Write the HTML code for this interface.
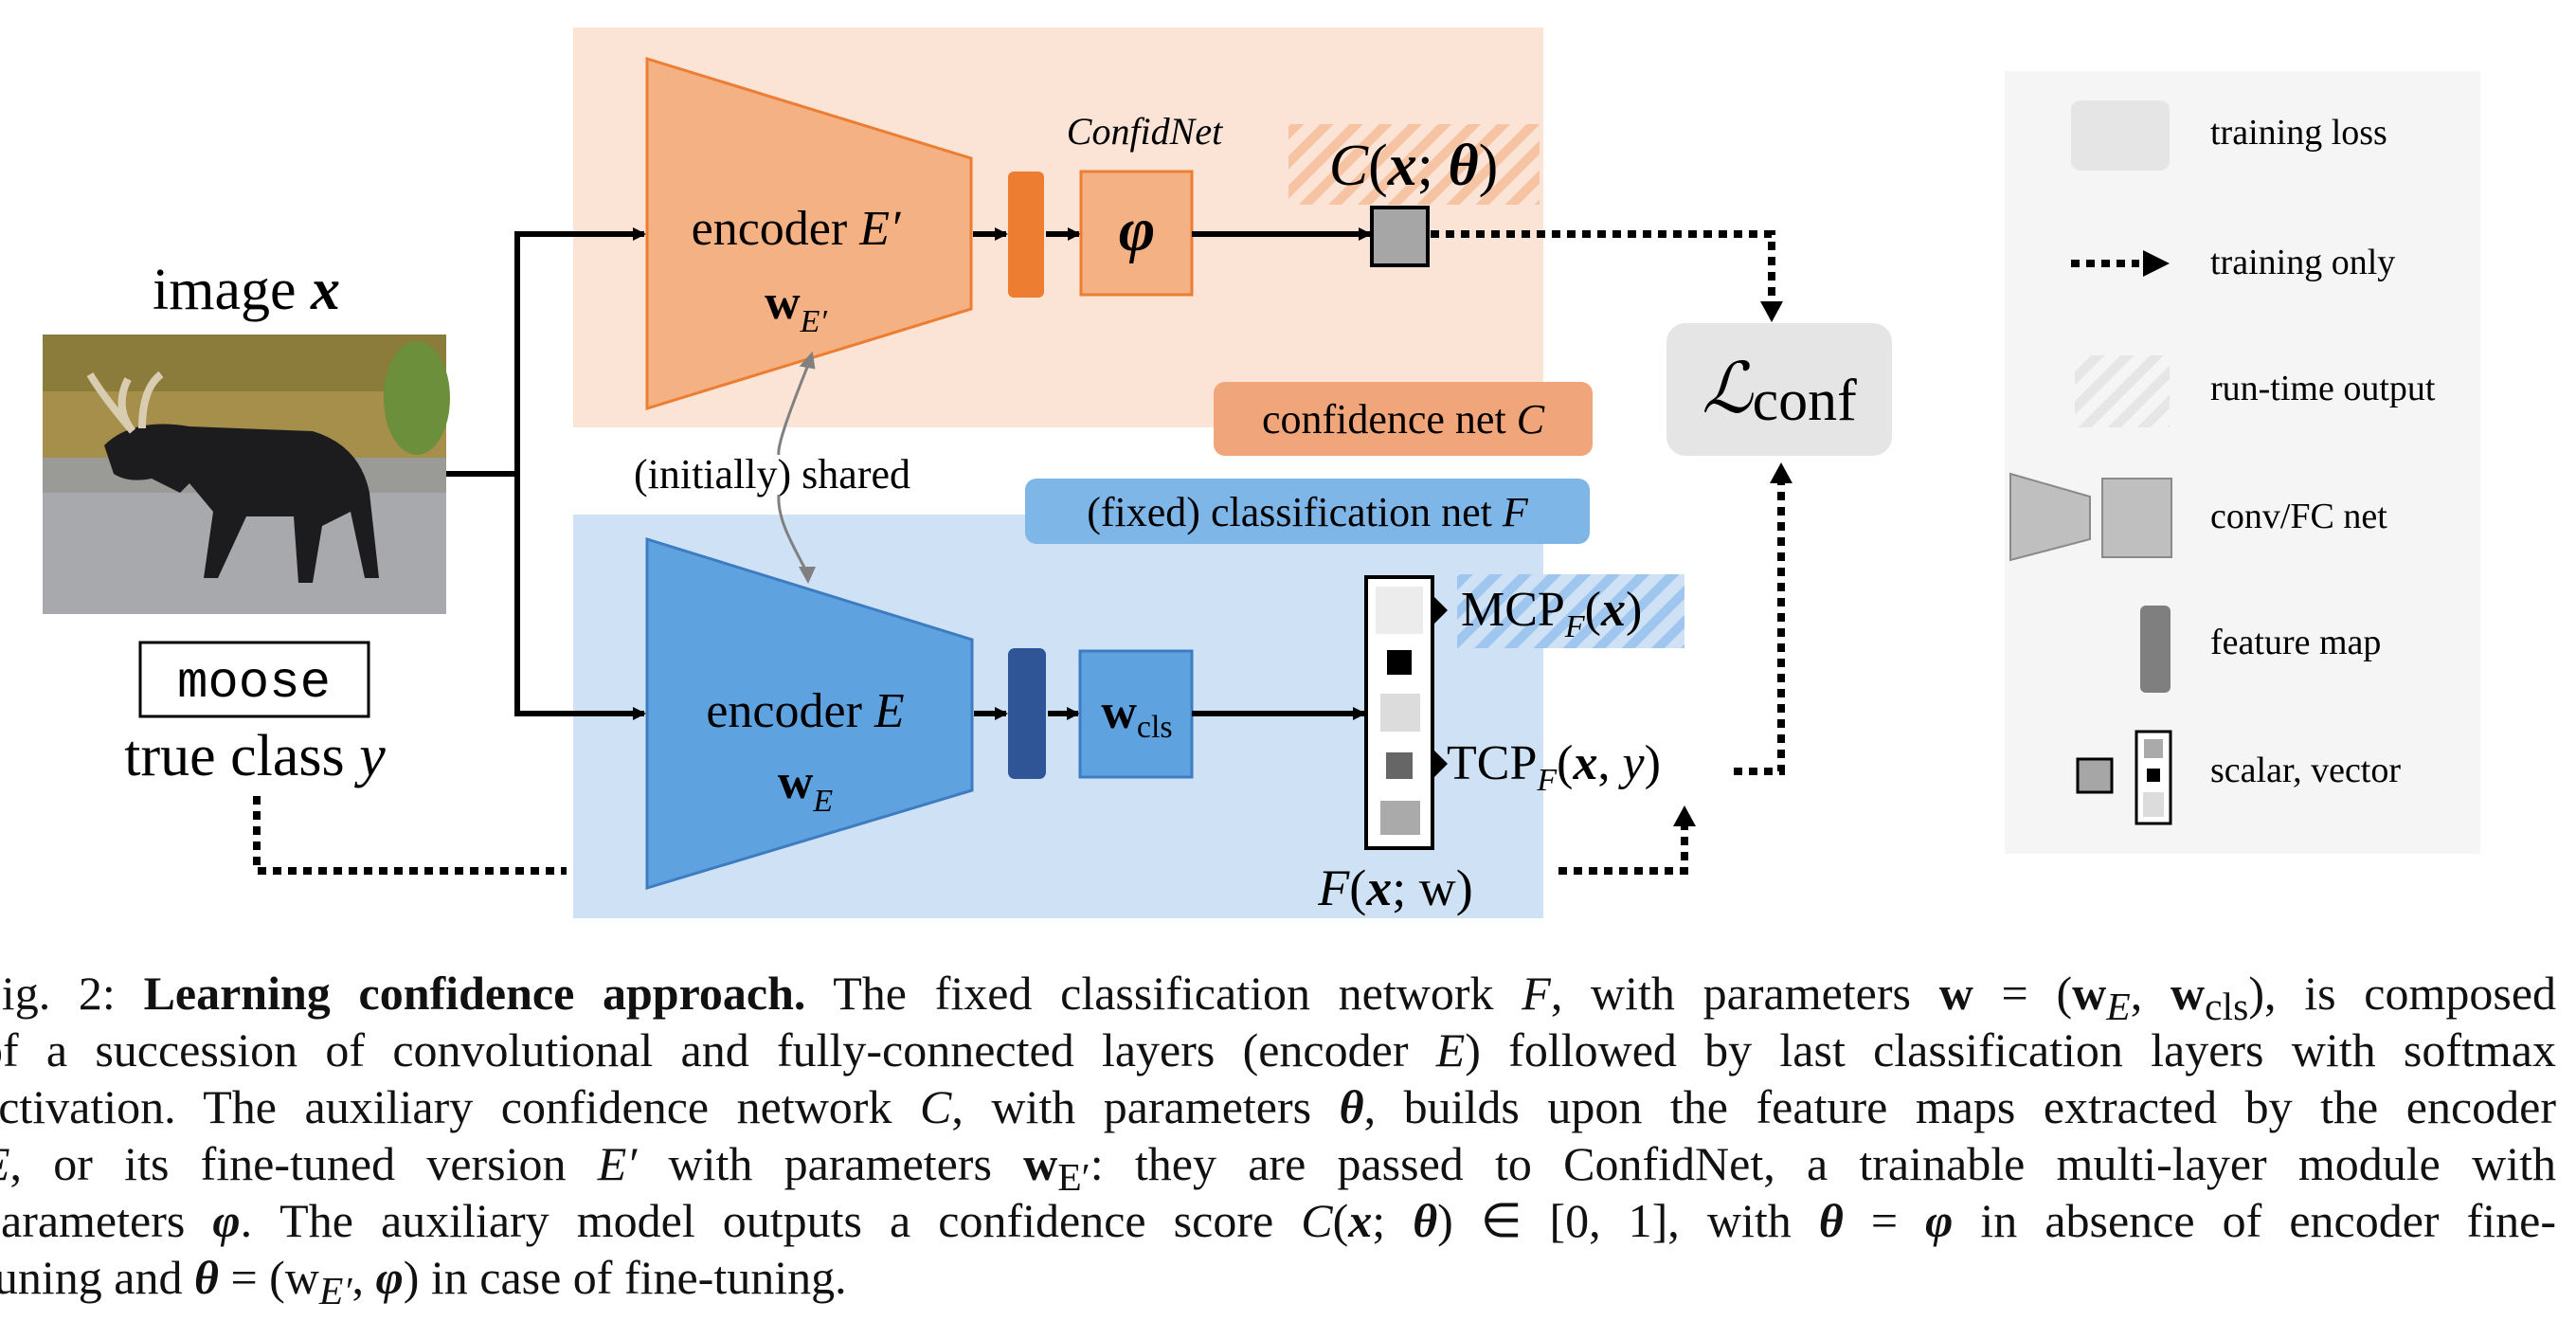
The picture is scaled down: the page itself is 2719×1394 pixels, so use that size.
<!DOCTYPE html>
<html><head><meta charset="utf-8">
<style>
html,body{margin:0;padding:0;background:#fff;}
#wrap{position:relative;width:2719px;height:1394px;overflow:hidden;background:#fff;}
svg{position:absolute;left:0;top:0;}
.cap{position:absolute;font-family:"Liberation Serif",serif;font-size:50px;line-height:60px;white-space:nowrap;text-align:justify;text-align-last:justify;color:#111;}
.cap i{font-style:italic}
</style></head><body><div id="wrap">
<svg width="2719" height="1000" viewBox="0 0 2719 1000" font-family="Liberation Serif, serif">
<defs>
<pattern id="ho" width="22" height="22" patternUnits="userSpaceOnUse" patternTransform="rotate(45)"><rect width="22" height="22" fill="#fbe3d6"/><rect width="10" height="22" fill="#f6c3a3"/></pattern>
<pattern id="hb" width="22" height="22" patternUnits="userSpaceOnUse" patternTransform="rotate(45)"><rect width="22" height="22" fill="#cfe2f5"/><rect width="10" height="22" fill="#9fc6ee"/></pattern>
<pattern id="hg" width="22" height="22" patternUnits="userSpaceOnUse" patternTransform="rotate(45)"><rect width="22" height="22" fill="#f5f5f5"/><rect width="10" height="22" fill="#e6e6e6"/></pattern>
<marker id="ar" markerWidth="14" markerHeight="14" refX="12" refY="7" orient="auto" markerUnits="userSpaceOnUse" viewBox="0 0 14 14"><path d="M0,0 L14,7 L0,14 z" fill="#000"/></marker>
</defs>
<rect x="605" y="29" width="1024" height="422" fill="#fbe3d6"/>
<rect x="605" y="543" width="1024" height="426" fill="#cfe2f5"/>
<rect x="45" y="353" width="426" height="295" fill="#9a9a96"/>
<rect x="45" y="353" width="426" height="130" fill="#a58f4a"/>
<rect x="45" y="353" width="426" height="60" fill="#8b7c3c"/>
<ellipse cx="440" cy="420" rx="35" ry="60" fill="#6b8f3a"/>
<rect x="45" y="520" width="426" height="128" fill="#a8a9ad"/>
<path d="M110,470 Q140,440 200,450 L330,455 Q380,470 390,520 L400,610 L385,610 L370,540 L340,555 L330,615 L315,615 L310,545 L260,545 L230,610 L215,610 L225,540 L200,510 L190,520 L160,505 Q135,510 120,500 Z" fill="#1c1c1e"/>
<path d="M140,455 Q110,420 95,395 M150,452 Q150,410 170,395 M140,455 Q120,430 135,400" stroke="#d8cdb0" stroke-width="8" fill="none"/>
<text x="260" y="326" font-size="62" text-anchor="middle">image <tspan font-style="italic" font-weight="bold">x</tspan></text>
<rect x="148" y="678" width="241" height="78" fill="#fff" stroke="#000" stroke-width="3"/>
<text x="268" y="735" font-size="54" text-anchor="middle" font-family="Liberation Mono, monospace">moose</text>
<text x="269" y="818" font-size="62" text-anchor="middle">true class <tspan font-style="italic">y</tspan></text>
<path d="M471,500 H546 V247 H680" stroke="#000" stroke-width="6" fill="none" marker-end="url(#ar)"/>
<path d="M546,500 V753 H680" stroke="#000" stroke-width="6" fill="none" marker-end="url(#ar)"/>
<polygon points="683,62 1025,167 1025,326 683,431" fill="#f4b183" stroke="#ed7d31" stroke-width="3"/>
<text x="840" y="258" font-size="52" text-anchor="middle">encoder <tspan font-style="italic">E′</tspan></text>
<text x="840" y="336" font-size="52" text-anchor="middle" font-weight="bold">w<tspan font-size="34" font-weight="normal" font-style="italic" dy="14">E′</tspan></text>
<line x1="1027" y1="247" x2="1062" y2="247" stroke="#000" stroke-width="6" marker-end="url(#ar)"/>
<rect x="1064" y="181" width="38" height="133" rx="6" fill="#ed7d31"/>
<line x1="1104" y1="247" x2="1139" y2="247" stroke="#000" stroke-width="6" marker-end="url(#ar)"/>
<rect x="1141" y="181" width="117" height="130" fill="#f4b183" stroke="#ed7d31" stroke-width="3"/>
<text x="1200" y="264" font-size="66" text-anchor="middle" font-style="italic" font-weight="bold">φ</text>
<text x="1208" y="152" font-size="40" text-anchor="middle" font-style="italic">ConfidNet</text>
<rect x="1360" y="131" width="265" height="85" fill="url(#ho)"/>
<text x="1492" y="195" font-size="62" text-anchor="middle"><tspan font-style="italic">C</tspan>(<tspan font-style="italic" font-weight="bold">x</tspan>; <tspan font-style="italic" font-weight="bold">θ</tspan>)</text>
<line x1="1258" y1="247" x2="1446" y2="247" stroke="#000" stroke-width="6" marker-end="url(#ar)"/>
<rect x="1448" y="219" width="59" height="61" fill="#a6a6a6" stroke="#000" stroke-width="4"/>
<path d="M1510,247 H1870 V325" stroke="#000" stroke-width="8" stroke-dasharray="9,7" fill="none"/>
<path d="M1858,318 L1882,318 L1870,340 Z" fill="#000"/>
<rect x="1281" y="403" width="400" height="78" rx="12" fill="#f1a57a"/>
<text x="1481" y="457" font-size="44" text-anchor="middle">confidence net <tspan font-style="italic">C</tspan></text>
<rect x="1082" y="505" width="596" height="69" rx="12" fill="#7fb6e8"/>
<text x="1380" y="555" font-size="44" text-anchor="middle">(fixed) classification net <tspan font-style="italic">F</tspan></text>
<text x="815" y="515" font-size="44" text-anchor="middle">(initially) shared</text>
<path d="M853,385 C835,430 820,470 822,480 M822,522 C820,550 840,580 852,605" stroke="#808080" stroke-width="3" fill="none"/>
<path d="M845,388 L862,388 L856,370 Z" fill="#808080" transform="rotate(10 853 380)"/>
<path d="M843,598 L861,598 L853,616 Z" fill="#808080"/>
<polygon points="683,569 1026,675 1026,834 683,937" fill="#5ea3e0" stroke="#3d7cc0" stroke-width="3"/>
<text x="850" y="767" font-size="52" text-anchor="middle">encoder <tspan font-style="italic">E</tspan></text>
<text x="850" y="842" font-size="52" text-anchor="middle" font-weight="bold">w<tspan font-size="34" font-weight="normal" font-style="italic" dy="14">E</tspan></text>
<line x1="1028" y1="753" x2="1062" y2="753" stroke="#000" stroke-width="6" marker-end="url(#ar)"/>
<rect x="1064" y="684" width="40" height="138" rx="7" fill="#2f5597"/>
<line x1="1106" y1="753" x2="1138" y2="753" stroke="#000" stroke-width="6" marker-end="url(#ar)"/>
<rect x="1140" y="687" width="118" height="133" fill="#5ea3e0" stroke="#3d7cc0" stroke-width="3"/>
<text x="1200" y="768" font-size="52" text-anchor="middle" font-weight="bold">w<tspan font-size="34" font-weight="normal" dy="10">cls</tspan></text>
<line x1="1258" y1="753" x2="1440" y2="753" stroke="#000" stroke-width="6" marker-end="url(#ar)"/>
<rect x="1442" y="609" width="70" height="286" fill="#fff" stroke="#000" stroke-width="4"/>
<rect x="1452" y="619" width="50" height="50" fill="#ececec"/>
<rect x="1464" y="686" width="26" height="26" fill="#000"/>
<rect x="1457" y="732" width="42" height="40" fill="#dcdcdc"/>
<rect x="1463" y="794" width="28" height="28" fill="#666"/>
<rect x="1457" y="845" width="42" height="36" fill="#aaa"/>
<path d="M1514,630 L1528,644 L1514,658 Z" fill="#000"/>
<path d="M1514,792 L1528,806 L1514,820 Z" fill="#000"/>
<rect x="1538" y="606" width="240" height="78" fill="url(#hb)"/>
<text x="1542" y="660" font-size="52">MCP<tspan font-size="34" font-style="italic" dy="12">F</tspan><tspan dy="-12">(</tspan><tspan font-style="italic" font-weight="bold">x</tspan>)</text>
<text x="1527" y="822" font-size="52">TCP<tspan font-size="34" font-style="italic" dy="12">F</tspan><tspan dy="-12">(</tspan><tspan font-style="italic" font-weight="bold">x</tspan>, <tspan font-style="italic">y</tspan>)</text>
<text x="1473" y="955" font-size="54" text-anchor="middle"><tspan font-style="italic">F</tspan>(<tspan font-style="italic" font-weight="bold">x</tspan>; w)</text>
<path d="M271,840 V919 H598" stroke="#000" stroke-width="8" stroke-dasharray="9,7" fill="none"/>
<path d="M1830,814 H1880 V505" stroke="#000" stroke-width="8" stroke-dasharray="9,7" fill="none"/>
<path d="M1868,510 L1892,510 L1880,488 Z" fill="#000"/>
<path d="M1645,919 H1778 V868" stroke="#000" stroke-width="8" stroke-dasharray="9,7" fill="none"/>
<path d="M1766,872 L1790,872 L1778,850 Z" fill="#000"/>
<rect x="1759" y="341" width="238" height="140" rx="20" fill="#e5e5e5"/>
<text x="1878" y="435" font-size="74" text-anchor="middle"><tspan font-style="italic">ℒ</tspan><tspan font-size="62" dy="8">conf</tspan></text>
<rect x="2116" y="75" width="502" height="826" fill="#f5f5f5"/>
<rect x="2186" y="106" width="104" height="74" rx="10" fill="#e5e5e5"/>
<text x="2333" y="152" font-size="38">training loss</text>
<path d="M2186,278 H2258" stroke="#000" stroke-width="8" stroke-dasharray="9,7"/>
<path d="M2262,264 L2290,278 L2262,292 Z" fill="#000"/>
<text x="2333" y="289" font-size="38">training only</text>
<rect x="2190" y="375" width="100" height="76" fill="url(#hg)"/>
<text x="2333" y="422" font-size="38">run-time output</text>
<polygon points="2122,500 2206,524 2206,569 2122,591" fill="#bfbfbf" stroke="#8a8a8a" stroke-width="2"/>
<rect x="2219" y="505" width="73" height="83" fill="#bfbfbf" stroke="#8a8a8a" stroke-width="2"/>
<text x="2333" y="557" font-size="38">conv/FC net</text>
<rect x="2259" y="639" width="32" height="92" rx="6" fill="#7f7f7f"/>
<text x="2333" y="690" font-size="38">feature map</text>
<rect x="2193" y="801" width="36" height="35" fill="#a6a6a6" stroke="#000" stroke-width="3"/>
<rect x="2255" y="772" width="36" height="97" fill="#fff" stroke="#000" stroke-width="3"/>
<rect x="2263" y="780" width="20" height="20" fill="#aaa"/>
<rect x="2266" y="811" width="14" height="14" fill="#000"/>
<rect x="2262" y="836" width="22" height="26" fill="#dcdcdc"/>
<text x="2333" y="825" font-size="38">scalar, vector</text>
</svg>
<div class="cap" style="left:-26px;top:1018px;width:2724px;">Fig. 2: <b>Learning confidence approach.</b> The fixed classification network <i>F</i>, with parameters <b>w</b> = (<b>w</b><sub><i>E</i></sub>, <b>w</b><sub>cls</sub>), is composed</div>
<div class="cap" style="left:-22px;top:1078px;width:2720px;">of a succession of convolutional and fully-connected layers (encoder <i>E</i>) followed by last classification layers with softmax</div>
<div class="cap" style="left:-24px;top:1138px;width:2722px;">activation. The auxiliary confidence network <i>C</i>, with parameters <b><i>θ</i></b>, builds upon the feature maps extracted by the encoder</div>
<div class="cap" style="left:-20px;top:1198px;width:2718px;"><i>E</i>, or its fine-tuned version <i>E′</i> with parameters <b>w</b><sub>E′</sub>: they are passed to ConfidNet, a trainable multi-layer module with</div>
<div class="cap" style="left:-24px;top:1258px;width:2722px;">parameters <b><i>φ</i></b>. The auxiliary model outputs a confidence score <i>C</i>(<b><i>x</i></b>; <b><i>θ</i></b>) ∈ [0, 1], with <b><i>θ</i></b> = <b><i>φ</i></b> in absence of encoder fine-</div>
<div class="cap" style="left:-20px;top:1318px;text-align:left;text-align-last:left;">tuning and <b><i>θ</i></b> = (w<sub><i>E′</i></sub>, <b><i>φ</i></b>) in case of fine-tuning.</div>
</div></body></html>
